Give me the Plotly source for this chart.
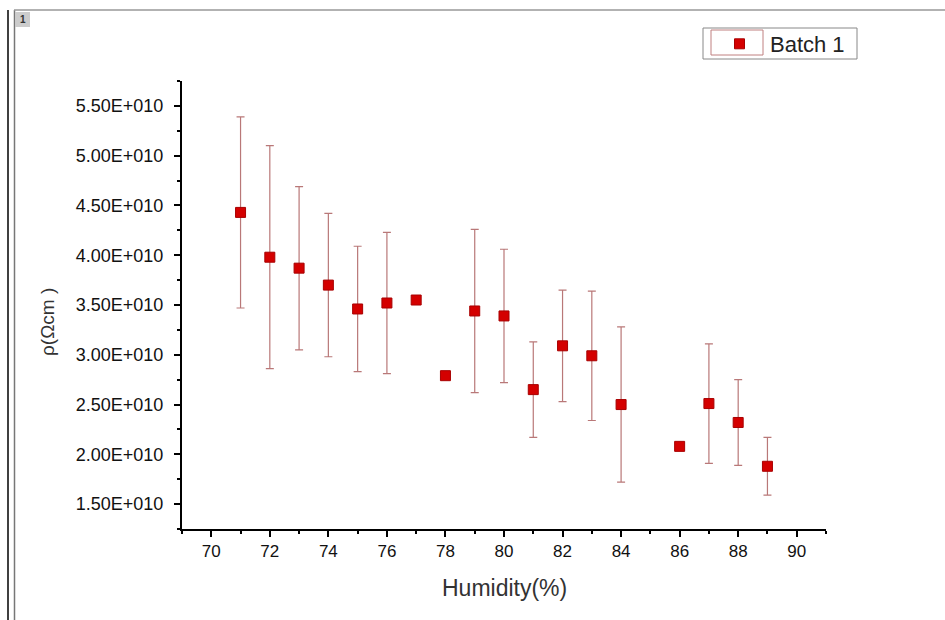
import plotly.graph_objects as go

humidity = [71, 72, 73, 74, 75, 76, 77, 78, 79, 80, 81, 82, 83, 84, 86, 87, 88, 89]
resistivity = [4.43e10, 3.98e10, 3.87e10, 3.70e10, 3.46e10, 3.52e10, 3.55e10, 2.79e10,
               3.44e10, 3.39e10, 2.65e10, 3.09e10, 2.99e10, 2.50e10, 2.08e10, 2.51e10,
               2.32e10, 1.88e10]
errors = [0.96e10, 1.12e10, 0.82e10, 0.72e10, 0.63e10, 0.71e10, None, None,
          0.82e10, 0.67e10, 0.48e10, 0.56e10, 0.65e10, 0.78e10, None, 0.60e10,
          0.43e10, 0.29e10]

x_ticks = [70, 72, 74, 76, 78, 80, 82, 84, 86, 88, 90]
y_tickvals = [1.5e10, 2.0e10, 2.5e10, 3.0e10, 3.5e10, 4.0e10, 4.5e10, 5.0e10, 5.5e10]
y_ticktext = ["1.50E+010", "2.00E+010", "2.50E+010", "3.00E+010", "3.50E+010",
              "4.00E+010", "4.50E+010", "5.00E+010", "5.50E+010"]

W, H = 945, 620
L, R, T, B = 182, 826, 81, 529


def px(x):
    return (x - L) / (R - L)


def py(y):
    return (B - y) / (B - T)


fig = go.Figure()
fig.add_trace(go.Scatter(
    x=humidity, y=resistivity, mode="markers", name="Batch 1",
    marker=dict(symbol="square", size=10, color="#d40000",
                line=dict(color="#a80000", width=1)),
    error_y=dict(type="data", array=errors, visible=True,
                 color="rgb(185,120,120)", thickness=1.2, width=4),
))

font = "Liberation Sans, Arial, sans-serif"

fig.update_layout(
    width=W, height=H,
    margin=dict(l=L, r=W - R, t=T, b=H - B, autoexpand=False),
    paper_bgcolor="white", plot_bgcolor="white",
    showlegend=True,
    legend=dict(x=px(709), y=py(23), xanchor="left", yanchor="top",
                borderwidth=0, bgcolor="rgba(0,0,0,0)",
                font=dict(family=font, size=22, color="#222222"),
                itemwidth=51),
    xaxis=dict(range=[69, 91], tickvals=x_ticks, showgrid=False, zeroline=False,
               showline=True, linecolor="black", linewidth=2,
               ticks="outside", ticklen=6, tickwidth=2, tickcolor="black",
               tickfont=dict(family=font, size=17, color="#111111"),
               minor=dict(dtick=1, tick0=69, ticks="outside", ticklen=3,
                          tickwidth=2, tickcolor="black"),
               automargin=False),
    yaxis=dict(range=[1.25e10, 5.75e10], tickvals=y_tickvals, ticktext=y_ticktext,
               showgrid=False, zeroline=False,
               showline=True, linecolor="black", linewidth=2,
               ticks="outside", ticklen=6, tickwidth=2, tickcolor="black",
               ticklabelstandoff=7,
               tickfont=dict(family=font, size=18, color="#111111"),
               minor=dict(dtick=0.25e10, tick0=1.25e10, ticks="outside", ticklen=3,
                          tickwidth=2, tickcolor="black"),
               automargin=False),
    annotations=[
        dict(text="Humidity(%)", x=px(504), y=py(588), xref="paper", yref="paper",
             showarrow=False, xanchor="center", yanchor="middle",
             font=dict(family=font, size=23, color="#333333")),
        dict(text="ρ(Ωcm )", x=px(47), y=py(322), xref="paper", yref="paper",
             showarrow=False, xanchor="center", yanchor="middle", textangle=-90,
             font=dict(family=font, size=19, color="#333333")),
        dict(text="<b>1</b>", x=px(22.5), y=py(19.5), xref="paper", yref="paper",
             showarrow=False, xanchor="center", yanchor="middle",
             font=dict(family=font, size=10, color="#333333")),
    ],
    shapes=[
        dict(type="line", xref="paper", yref="paper", x0=px(8), x1=px(8),
             y0=py(10), y1=py(620), line=dict(color="black", width=1.5)),
        dict(type="line", xref="paper", yref="paper", x0=px(14.5), x1=px(14.5),
             y0=py(10), y1=py(620), line=dict(color="#777777", width=1.5)),
        dict(type="line", xref="paper", yref="paper", x0=px(14), x1=px(945),
             y0=py(10), y1=py(10), line=dict(color="#999999", width=1.5)),
        dict(type="rect", xref="paper", yref="paper", x0=px(15.5), x1=px(30),
             y0=py(12), y1=py(27), fillcolor="#cccccc", line=dict(width=0),
             layer="below"),
        dict(type="rect", xref="paper", yref="paper", x0=px(703), x1=px(857),
             y0=py(28), y1=py(59), line=dict(color="#888888", width=1),
             layer="below"),
        dict(type="rect", xref="paper", yref="paper", x0=px(711), x1=px(763),
             y0=py(30), y1=py(55), line=dict(color="#c08080", width=1),
             layer="below"),
    ],
)

fig.write_html("out.html", config={"displayModeBar": False},
               post_script="document.body.style.margin='0';")
